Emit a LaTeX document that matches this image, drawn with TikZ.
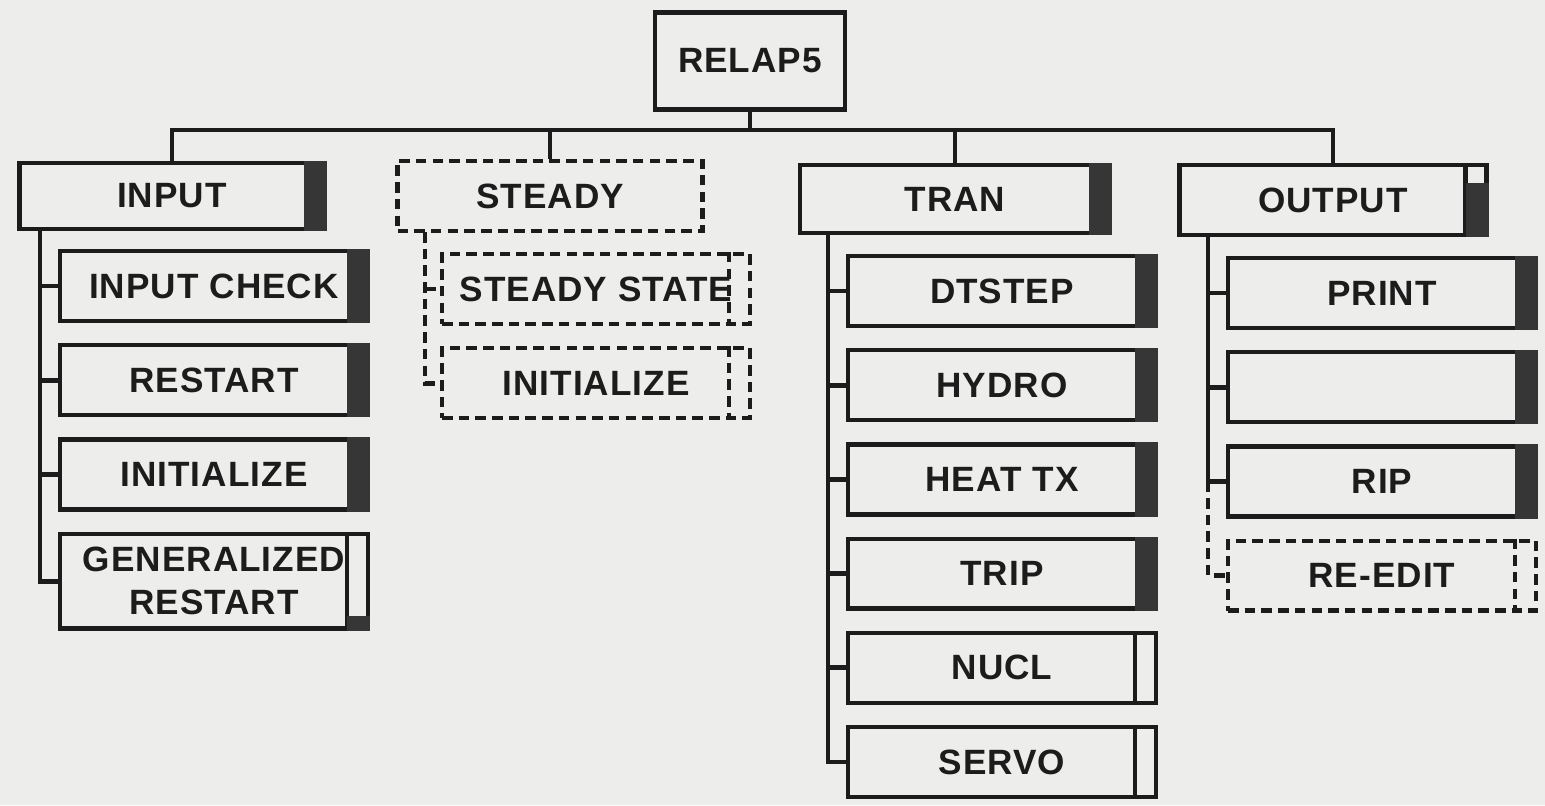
\documentclass[tikz,border=0pt]{standalone}
\usepackage{fontspec}
\setmainfont{Liberation Sans}[LetterSpace=3]
\usetikzlibrary{positioning, calc}
\definecolor{paper}{HTML}{EDEDEB}
\definecolor{ink}{HTML}{1C1C1C}
\definecolor{bar}{HTML}{363636}

\begin{document}
\begin{tikzpicture}[
    x=0.02cm, y=-0.02cm,
    node distance=0.40cm,
    every node/.style={font=\fontsize{20}{24.5}\selectfont\bfseries, text=ink},
    box/.style={draw=ink, line width=2.4pt, minimum width=6.16cm, minimum height=1.4cm, align=center, inner sep=0pt},
    dbox/.style={box, dash pattern=on 6pt off 3.5pt},
    link/.style={draw=ink, line width=2.8pt},
    dlink/.style={link, dash pattern=on 6pt off 3.5pt}
]
\fill[paper] (0,0) rectangle (1545,805);
\useasboundingbox (0,0) rectangle (1545,805);

% top level
\node[box, minimum width=3.8cm, minimum height=1.94cm] (relap) at (750,61) {RELAP5};
\node[box, minimum width=6.1cm, minimum height=1.32cm] (input) at (172,196) {INPUT};
\node[dbox, minimum width=6.1cm, minimum height=1.4cm] (steady) at (550,196) {STEADY};
\node[box, minimum width=6.2cm, minimum height=1.36cm] (tran) at (955,199) {TRAN};
\node[box, minimum width=6.14cm, minimum height=1.4cm] (output) at (1333,200) {OUTPUT};

% input branch
\node[box] (chk) at (214,286) {INPUT CHECK};
\node[box, below=of chk] (rst) {RESTART};
\node[box, below=of rst] (ini) {INITIALIZE};
\node[box, below=of ini, minimum height=1.9cm] (gen) {GENERALIZED\\RESTART};

% steady branch
\node[dbox] (stst) at (596,289) {STEADY STATE};
\node[dbox, below=of stst] (sini) {INITIALIZE};

% tran branch
\node[box] (dt) at (1002,291) {DTSTEP};
\node[box, below=of dt] (hyd) {HYDRO};
\node[box, below=of hyd] (heat) {HEAT TX};
\node[box, below=of heat] (trip) {TRIP};
\node[box, below=of trip] (nucl) {NUCL};
\node[box, below=of nucl] (servo) {SERVO};

% output branch
\node[box] (prt) at (1382,293) {PRINT};
\node[box, below=of prt] (plt) {};
\node[box, below=of plt] (rip) {RIP};
\node[dbox, below=of rip] (reedit) {RE-EDIT};

% side bars
\foreach \n in {input,chk,rst,ini,tran,dt,hyd,heat,trip,prt,plt,rip}
  \fill[bar] ($(\n.north east)+(-23,0)$) rectangle (\n.south east);
\foreach \n in {gen,nucl,servo,output}
  \draw[ink, line width=2.4pt] ($(\n.north east)+(-23,0)$) -- ($(\n.south east)+(-23,0)$);
\fill[bar] ($(gen.south east)+(-23,-15)$) rectangle (gen.south east);
\fill[bar] ($(output.north east)+(-23,20)$) rectangle (output.south east);
\foreach \n in {stst,sini,reedit}
  \draw[ink, line width=2.4pt, dash pattern=on 6pt off 3.5pt] ($(\n.north east)+(-23,0)$) -- ($(\n.south east)+(-23,0)$);

% bus
\coordinate (bus) at (750,130);
\draw[link] (relap) -- (bus);
\draw[link] (input.north) |- (bus) -| (output.north);
\draw[link] (steady.north) -- (steady.north |- bus);
\draw[link] (tran.north) -- (tran.north |- bus);

% trunks
\coordinate (inT) at (40,228);
\draw[link] (inT) |- (gen.west);
\foreach \k in {chk,rst,ini}
  \draw[link] (inT |- \k.west) -- (\k.west);

\coordinate (stT) at (425,232);
\draw[dlink] (stT) |- (sini.west);
\draw[dlink] (stT |- stst.west) -- (stst.west);

\coordinate (trT) at (828,232);
\draw[link] (trT) |- (servo.west);
\foreach \k in {dt,hyd,heat,trip,nucl}
  \draw[link] (trT |- \k.west) -- (\k.west);

\coordinate (ouT) at (1208,236);
\draw[link] (ouT) -- (ouT |- rip.west);
\foreach \k in {prt,plt,rip}
  \draw[link] (ouT |- \k.west) -- (\k.west);
\draw[dlink] (ouT |- rip.west) |- (reedit.west);
\end{tikzpicture}
\end{document}
